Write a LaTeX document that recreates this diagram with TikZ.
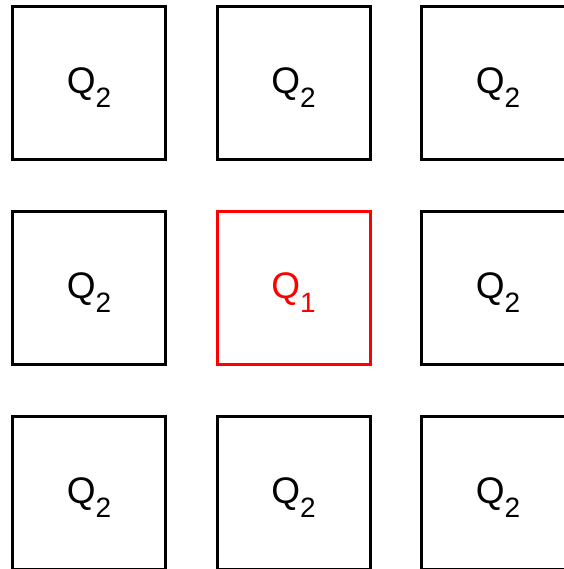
\documentclass[tikz,border=0pt]{standalone}
\usepackage{fontspec}
\setmainfont{Liberation Sans}
\usepackage{tikz}

\newcommand{\qsub}[1]{Q\raisebox{-14pt}{\fontsize{28}{28}\selectfont #1}}

\begin{document}
\begin{tikzpicture}[x=1pt, y=-1pt, font=\fontsize{37}{37}\selectfont,
    cell/.style={draw, line width=3pt, minimum size=153pt, inner sep=0pt,
                 text height=31pt, text depth=10pt}]
  \useasboundingbox (0,0) rectangle (563,569);

  % surrounding cells
  \foreach \name/\cx/\cy in {a/89/83.5, b/293.5/83.5, c/498/83.5,
                             d/89/288, f/498/288,
                             g/89/492.5, h/293.5/492.5, i/498/492.5}
    \node[cell] (\name) at (\cx,\cy) {\qsub{2}};

  % centre cell
  \node[cell, draw=red, text=red] (e) at (293.5,288) {\qsub{1}};
\end{tikzpicture}
\end{document}
